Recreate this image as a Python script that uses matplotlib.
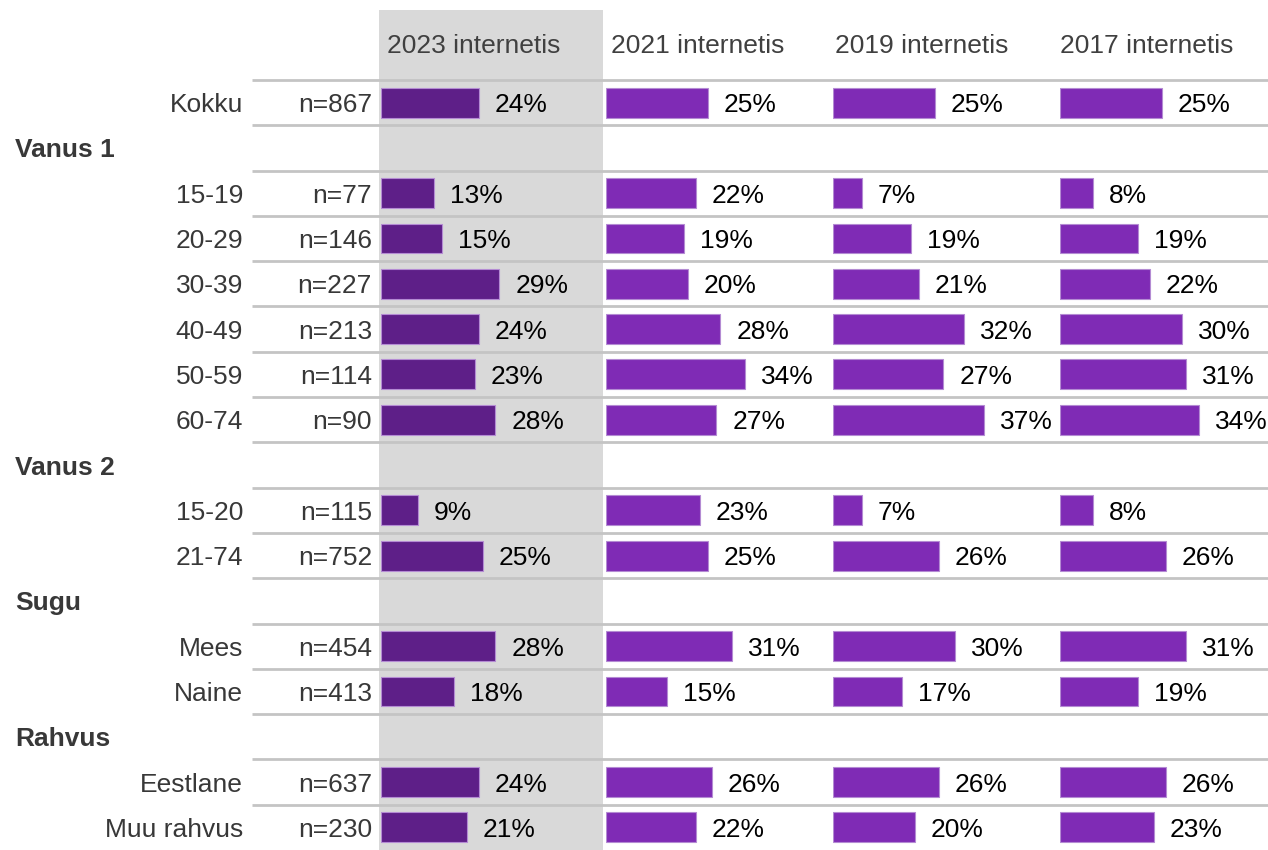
import matplotlib
matplotlib.use("Agg")
from matplotlib import pyplot as plt

# rows top to bottom; None in n means a group header row
row_labels = ["Kokku", "Vanus 1", "15-19", "20-29", "30-39", "40-49", "50-59", "60-74",
              "Vanus 2", "15-20", "21-74", "Sugu", "Mees", "Naine", "Rahvus", "Eestlane", "Muu rahvus"]
n_values = [867, None, 77, 146, 227, 213, 114, 90, None, 115, 752, None, 454, 413, None, 637, 230]

columns = ["2023 internetis", "2021 internetis", "2019 internetis", "2017 internetis"]
v2023 = [24, None, 13, 15, 29, 24, 23, 28, None, 9, 25, None, 28, 18, None, 24, 21]
v2021 = [25, None, 22, 19, 20, 28, 34, 27, None, 23, 25, None, 31, 15, None, 26, 22]
v2019 = [25, None, 7, 19, 21, 32, 27, 37, None, 7, 26, None, 30, 17, None, 26, 20]
v2017 = [25, None, 8, 19, 22, 30, 31, 34, None, 8, 26, None, 31, 19, None, 26, 23]
series = [v2023, v2021, v2019, v2017]

# layout (pixels)
W, H = 1268, 850
top_line = 80
row_h = (H - top_line) / len(row_labels)
panel_x = [381, 606, 833, 1060]
panel_w = 222
header_x = [387, 611, 835, 1060]
px_per_pct = 4.08
bar_colors = ["#5E1F88", "#7F2BB5", "#7F2BB5", "#7F2BB5"]

plt.rcParams["font.family"] = ["Liberation Sans", "DejaVu Sans"]
fs = 19
label_col = "#383838"
va = "center_baseline"

fig = plt.figure(figsize=(W / 100, H / 100), dpi=100)

def px_to_row(y):
    return (y - top_line) / row_h - 0.5

# background axes in pixel x units and row y units
bg = fig.add_axes([0, 0, 1, 1])
bg.set_xlim(0, W)
bg.set_ylim(px_to_row(H), px_to_row(0))
bg.axis("off")
bg.axvspan(379, 603, ymin=0, ymax=(H - 10) / H, color="#D9D9D9", zorder=0, lw=0)
for k in range(len(row_labels)):
    bg.hlines(k - 0.5, 252, W, color="#C4C4C4", lw=2, zorder=1)

for i, (lab, n) in enumerate(zip(row_labels, n_values)):
    if n is None:
        bg.text(15, i, lab, ha="left", va=va, fontsize=fs, fontweight="bold", color=label_col)
    else:
        bg.text(243, i, lab, ha="right", va=va, fontsize=fs, color=label_col)
        bg.text(372, i, f"n={n}", ha="right", va=va, fontsize=fs, color=label_col)

for x, col in zip(header_x, columns):
    bg.text(x, px_to_row(43), col, ha="left", va=va, fontsize=fs, color="#404040")

# one axes per survey year
for x0, vals, color in zip(panel_x, series, bar_colors):
    ax = fig.add_axes([x0 / W, 0, panel_w / W, (H - 10) / H])
    ax.set_xlim(0, panel_w / px_per_pct)
    ax.set_ylim(px_to_row(H), px_to_row(10))
    ax.patch.set_alpha(0)
    ax.axis("off")
    rows = [i for i, v in enumerate(vals) if v is not None]
    widths = [vals[i] for i in rows]
    ax.barh(rows, widths, height=0.66, left=0, color=color, edgecolor="#B48BD3", lw=0.8, zorder=3)
    for r, v in zip(rows, widths):
        ax.annotate(f"{v}%", (v, r), xytext=(16, 0), textcoords="offset pixels",
                    ha="left", va=va, fontsize=fs, color="black", annotation_clip=False)

fig.savefig("out.png", dpi=100)
